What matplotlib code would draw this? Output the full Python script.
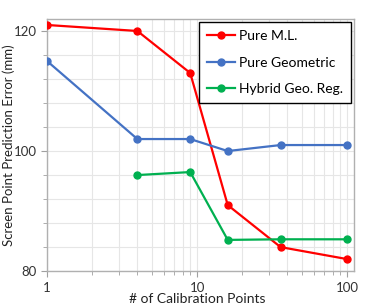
import numpy as np
import matplotlib
matplotlib.use('Agg')
import matplotlib.pyplot as plt
from matplotlib.ticker import MultipleLocator, LogLocator, NullFormatter, FixedLocator, FixedFormatter

# calibration point counts per series
mlX = [1, 4, 9, 16, 36, 100]
mlY = [121, 120, 113, 91, 84, 82]
geoX = [1, 4, 9, 16, 36, 100]
geoY = [115, 102, 102, 100, 101, 101]
hybX = [4, 9, 16, 36, 100]
hybY = [96, 96.5, 85.2, 85.3, 85.3]

labels = ['Pure M.L.', 'Pure Geometric', 'Hybrid Geo. Reg.']
cols = ['#FF0000', '#4472C4', '#00B050']
xlab = '# of Calibration Points'
ylab = 'Screen Point Prediction Error (mm)'

plt.rcParams['font.family'] = ['Lato', 'DejaVu Sans']

fig = plt.figure(figsize=(3.73, 3.06), dpi=100)
ax = fig.add_axes([0.126, 0.114, 0.823, 0.824])

for xs, ys, c, lab in zip([mlX, geoX, hybX], [mlY, geoY, hybY], cols, labels):
    ax.plot(xs, ys, color=c, lw=1.6, marker='o', ms=5, label=lab, zorder=3)

ax.set_xscale('log')
ax.set_xlim(1, 111)
ax.set_ylim(80, 122)

ax.xaxis.set_major_locator(FixedLocator([1, 10, 100]))
ax.xaxis.set_major_formatter(FixedFormatter(['1', '10', '100']))
ax.xaxis.set_minor_locator(LogLocator(base=10, subs=np.arange(2, 10)))
ax.xaxis.set_minor_formatter(NullFormatter())
ax.yaxis.set_major_locator(MultipleLocator(20))
ax.yaxis.set_minor_locator(MultipleLocator(4))

ax.grid(True, which='both', color='#E6E6E6', lw=0.8, zorder=0)
ax.set_axisbelow(True)

for s in ax.spines.values():
    s.set_color('#B0B0B0')
    s.set_linewidth(1.0)

ax.tick_params(which='both', colors='#A0A0A0', labelcolor='#333333', labelsize=9.5, direction='out')
ax.tick_params(which='major', length=4)
ax.tick_params(which='minor', length=3)

ax.set_xlabel(xlab, fontsize=10, color='#222222')
ax.set_ylabel(ylab, fontsize=9.5, color='#222222')
ax.xaxis.set_label_coords(0.49, -0.085)
ax.yaxis.set_label_coords(-0.105, 0.5)

leg = ax.legend(loc='upper right', fontsize=10, fancybox=False, framealpha=1,
                edgecolor='black', handlelength=2.0, handletextpad=0.3,
                borderpad=0.55, labelspacing=1.05, borderaxespad=0.25)
leg.get_frame().set_linewidth(1.0)

plt.savefig('out.png', dpi=100)
